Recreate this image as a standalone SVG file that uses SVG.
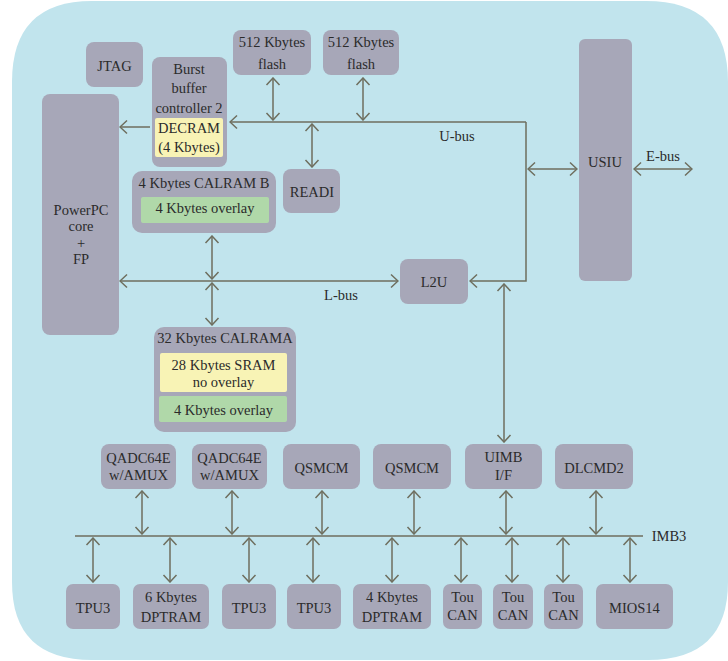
<svg xmlns="http://www.w3.org/2000/svg" width="728" height="661" viewBox="0 0 728 661">
<defs>
<marker id="ah" viewBox="-9 -8 10 16" markerWidth="10" markerHeight="16" refX="0" refY="0" orient="auto-start-reverse" markerUnits="userSpaceOnUse">
<path d="M-7,-6.5 L0,0 L-7,6.5" fill="none" stroke="#6e6e5e" stroke-width="1.5"/>
</marker>
<style>
.n{fill:#a7a7b8}
.y{fill:#f8f3b5}
.g{fill:#b0d8a9}
text{font-family:"Liberation Serif","Times New Roman",serif;font-size:14.5px;fill:#2b2b2b;text-anchor:middle}
.l{fill:none;stroke:#6e6e5e;stroke-width:1.5}
.a{fill:none;stroke:#6e6e5e;stroke-width:1.5;marker-end:url(#ah)}
.d{fill:none;stroke:#6e6e5e;stroke-width:1.5;marker-start:url(#ah);marker-end:url(#ah)}
</style>
</defs>
<path d="M92,1 H646 Q728,1 728,82 V582 Q728,660 648,660 H92 Q12,660 12,582 V82 Q12,1 92,1 Z" fill="#c1e4ed"/>
<g id="connectors">
<path class="a" d="M150,127 H120"/>
<path class="a" d="M526,122 V281 H470"/>
<path class="a" d="M526,122 H230"/>
<path class="d" d="M273,78 V120"/>
<path class="d" d="M363,78 V120"/>
<path class="d" d="M312,124 V167"/>
<path class="d" d="M528,169 H577"/>
<path class="d" d="M634,169 H692"/>
<path class="d" d="M120,281 H398"/>
<path class="d" d="M212,236 V279"/>
<path class="d" d="M212,283 V325"/>
<path class="d" d="M504,284 V442"/>
<path class="l" d="M75,536 H643"/>
<path class="d" d="M142,491 V534"/>
<path class="d" d="M232,491 V534"/>
<path class="d" d="M322,491 V534"/>
<path class="d" d="M414,491 V534"/>
<path class="d" d="M506,491 V534"/>
<path class="d" d="M596,491 V534"/>
<path class="d" d="M93,538 V582"/>
<path class="d" d="M170,538 V582"/>
<path class="d" d="M249,538 V582"/>
<path class="d" d="M313,538 V582"/>
<path class="d" d="M392,538 V582"/>
<path class="d" d="M461,538 V582"/>
<path class="d" d="M512,538 V582"/>
<path class="d" d="M563,538 V582"/>
<path class="d" d="M630,538 V582"/>
<text x="457" y="141">U-bus</text>
<text x="663" y="161">E-bus</text>
<text x="341" y="300">L-bus</text>
<text x="669" y="541">IMB3</text>
</g>
<g id="jtag"><rect class="n" x="86" y="42" width="57" height="45" rx="8"/><text x="114.5" y="71">JTAG</text></g>
<g id="bbc"><rect class="n" x="152" y="57" width="75" height="110" rx="8"/><text x="189" y="74">Burst</text><text x="189" y="93">buffer</text><text x="189" y="113">controller 2</text>
<rect class="y" x="155" y="118" width="68" height="39" rx="2"/><text x="189" y="133">DECRAM</text><text x="189" y="152">(4 Kbytes)</text></g>
<g id="flash1"><rect class="n" x="233" y="30" width="78" height="45" rx="8"/><text x="272" y="47">512 Kbytes</text><text x="272" y="69">flash</text></g>
<g id="flash2"><rect class="n" x="323" y="30" width="76" height="45" rx="8"/><text x="361" y="47">512 Kbytes</text><text x="361" y="69">flash</text></g>
<g id="readi"><rect class="n" x="283" y="169" width="57" height="44" rx="8"/><text x="312" y="197">READI</text></g>
<g id="calramb"><rect class="n" x="132" y="171" width="144" height="62" rx="10"/><text x="204" y="188">4 Kbytes CALRAM B</text>
<rect class="g" x="141" y="197" width="128" height="26" rx="2"/><text x="205" y="213">4 Kbytes overlay</text></g>
<g id="ppc"><rect class="n" x="42" y="94" width="77" height="241" rx="8"/><text x="81" y="215">PowerPC</text><text x="81" y="231">core</text><text x="81" y="248">+</text><text x="81" y="264">FP</text></g>
<g id="usiu"><rect class="n" x="579" y="39" width="53" height="242" rx="6"/><text x="605" y="167">USIU</text></g>
<g id="l2u"><rect class="n" x="400" y="259" width="68" height="45" rx="8"/><text x="434" y="287">L2U</text></g>
<g id="calrama"><rect class="n" x="154" y="327" width="142" height="105" rx="10"/><text x="225" y="343">32 Kbytes CALRAMA</text>
<rect class="y" x="160" y="353" width="127" height="39" rx="2"/><text x="223.5" y="370">28 Kbytes SRAM</text><text x="223.5" y="387">no overlay</text>
<rect class="g" x="159" y="396" width="128" height="26" rx="2"/><text x="223.5" y="415">4 Kbytes overlay</text></g>
<g id="qadc1"><rect class="n" x="101" y="444" width="75" height="45" rx="8"/><text x="138.5" y="463">QADC64E</text><text x="138.5" y="480">w/AMUX</text></g>
<g id="qadc2"><rect class="n" x="192" y="444" width="75" height="45" rx="8"/><text x="229.5" y="463">QADC64E</text><text x="229.5" y="480">w/AMUX</text></g>
<g id="qsmcm1"><rect class="n" x="283" y="444" width="77" height="45" rx="8"/><text x="321.5" y="473">QSMCM</text></g>
<g id="qsmcm2"><rect class="n" x="373" y="444" width="78" height="45" rx="8"/><text x="412" y="473">QSMCM</text></g>
<g id="uimb"><rect class="n" x="465" y="444" width="77" height="45" rx="8"/><text x="503.5" y="462">UIMB</text><text x="503.5" y="480">I/F</text></g>
<g id="dlcmd2"><rect class="n" x="555" y="444" width="78" height="45" rx="8"/><text x="594" y="473">DLCMD2</text></g>
<g id="tpu1"><rect class="n" x="66" y="584" width="54" height="45" rx="7"/><text x="93" y="613">TPU3</text></g>
<g id="dptram6"><rect class="n" x="133" y="584" width="76" height="45" rx="7"/><text x="171" y="602">6 Kbytes</text><text x="171" y="622">DPTRAM</text></g>
<g id="tpu2"><rect class="n" x="222" y="584" width="54" height="45" rx="7"/><text x="249" y="613">TPU3</text></g>
<g id="tpu3"><rect class="n" x="287" y="584" width="54" height="45" rx="7"/><text x="314" y="613">TPU3</text></g>
<g id="dptram4"><rect class="n" x="353" y="584" width="78" height="45" rx="7"/><text x="392" y="602">4 Kbytes</text><text x="392" y="622">DPTRAM</text></g>
<g id="toucan1"><rect class="n" x="443" y="584" width="39" height="45" rx="7"/><text x="462.5" y="602">Tou</text><text x="462.5" y="620">CAN</text></g>
<g id="toucan2"><rect class="n" x="493" y="584" width="40" height="45" rx="7"/><text x="513" y="602">Tou</text><text x="513" y="620">CAN</text></g>
<g id="toucan3"><rect class="n" x="544" y="584" width="39" height="45" rx="7"/><text x="563.5" y="602">Tou</text><text x="563.5" y="620">CAN</text></g>
<g id="mios14"><rect class="n" x="596" y="584" width="77" height="45" rx="7"/><text x="634.5" y="613">MIOS14</text></g>
</svg>
